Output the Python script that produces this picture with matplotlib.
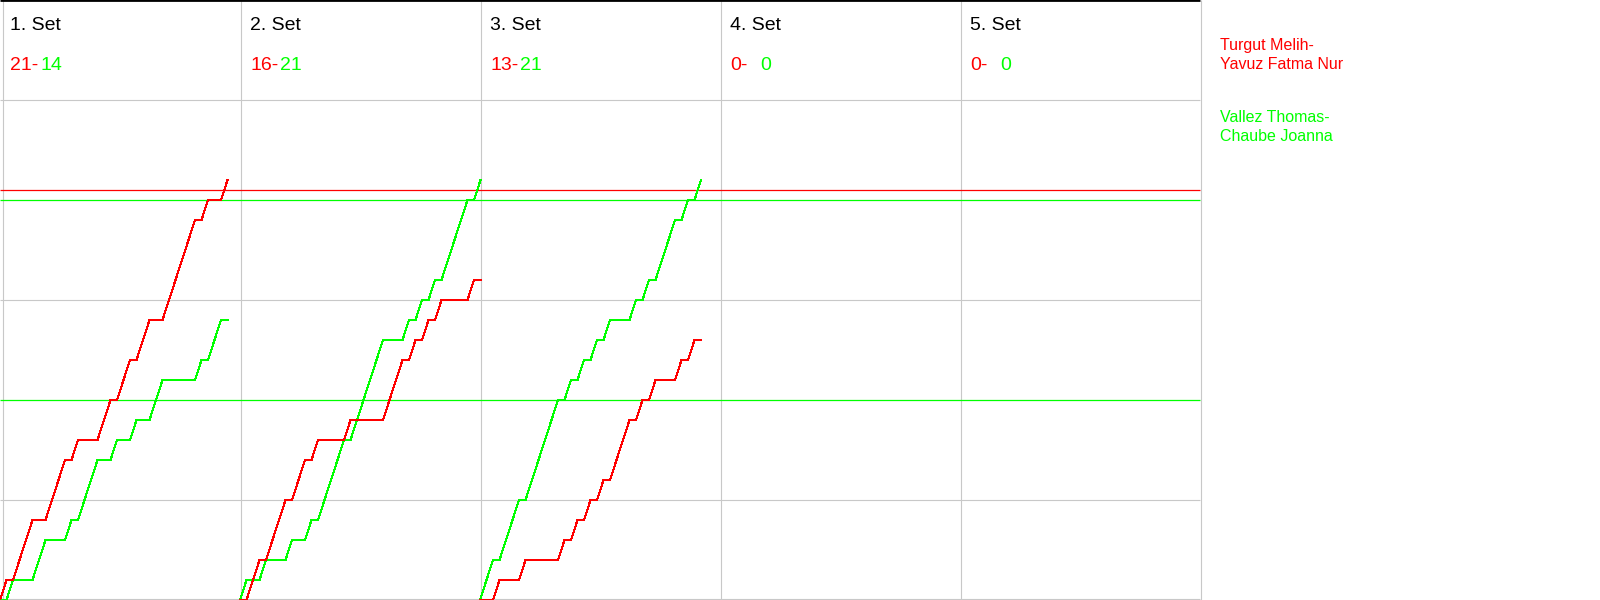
import numpy as np
import matplotlib.pyplot as plt

plt.rcParams['font.family'] = ['Liberation Sans', 'DejaVu Sans']

RED = '#ff0000'
GREEN = '#00ff00'
GRID = '#c8c8c8'

# who won each rally, R = red team, G = green team
set_rallies = [
    "RGRRRGGRRRGRGGGRRGRRGRRGGRRRRRGRGGR",
    "GRRGRRRGRRGRGGGGRGGGGGRRRGRGRGRGGGGRG",
    "GGRGGGRGGGGGRGRGRGRGRRRGRGRGGGRGRG",
    "",
    "",
]
set_names = ["1. Set", "2. Set", "3. Set", "4. Set", "5. Set"]
red_final = [21, 16, 13, 0, 0]
green_final = [14, 21, 21, 0, 0]
red_team = ["Turgut Melih-", "Yavuz Fatma Nur"]
green_team = ["Vallez Thomas-", "Chaube Joanna"]
ref_red = [20.5]
ref_green = [10, 20]
grid_y = [5, 15, 25]

panel_w = 240   # px per set column
rally_w = 6.5   # px per rally
n_sets = len(set_names)
right = panel_w * n_sets

fig = plt.figure(figsize=(16, 6), dpi=100)
ax = fig.add_axes([0, 0, 1, 1])
ax.set_xlim(0, 1600)
ax.set_ylim(0, 30)
ax.axis('off')

# frame / grid
ax.hlines(grid_y, 0, right, color=GRID, lw=0.8, zorder=1)
ax.hlines(0.05, 0, right, color=GRID, lw=0.8, zorder=1)
vx = [2.5] + [k * panel_w + 0.5 for k in range(1, n_sets + 1)]
ax.vlines(vx, 0, 30, color=GRID, lw=0.8, zorder=1)
ax.hlines(30, 0, right, color='black', lw=2, zorder=4)

# reference lines
ax.hlines(ref_red, 0, right, color=RED, lw=0.9, zorder=2)
ax.hlines(ref_green, 0, right, color=GREEN, lw=0.9, zorder=2)

for k in range(n_sets):
    x0 = k * panel_w
    ax.text(x0 + 10, 28.5, set_names[k], fontsize=14, color='black', va='baseline')
    ax.text(x0 + 10, 26.5, f"{red_final[k]}-", fontsize=14, color=RED, va='baseline')
    ax.text(x0 + 40, 26.5, str(green_final[k]), fontsize=14, color=GREEN, va='baseline')

    seq = np.array(list(set_rallies[k]))
    if len(seq) == 0:
        continue
    red = np.concatenate([[0], np.cumsum(seq == 'R')])
    green = np.concatenate([[0], np.cumsum(seq == 'G')])
    x = x0 + np.arange(len(red)) * rally_w
    ax.plot(x, green, color=GREEN, lw=0.75, marker='s', ms=2, mew=0,
            antialiased=False, zorder=3)
    ax.plot(x, red, color=RED, lw=0.75, marker='s', ms=2, mew=0,
            antialiased=False, zorder=3)

# team names
for i, name in enumerate(red_team):
    fig.text(1220 / 1600, 1 - (50 + i * 19.3) / 600, name, fontsize=11.5, color=RED, va='baseline')
for i, name in enumerate(green_team):
    fig.text(1220 / 1600, 1 - (121.7 + i * 19.3) / 600, name, fontsize=11.5, color=GREEN, va='baseline')

fig.savefig('out.png', dpi=100)
